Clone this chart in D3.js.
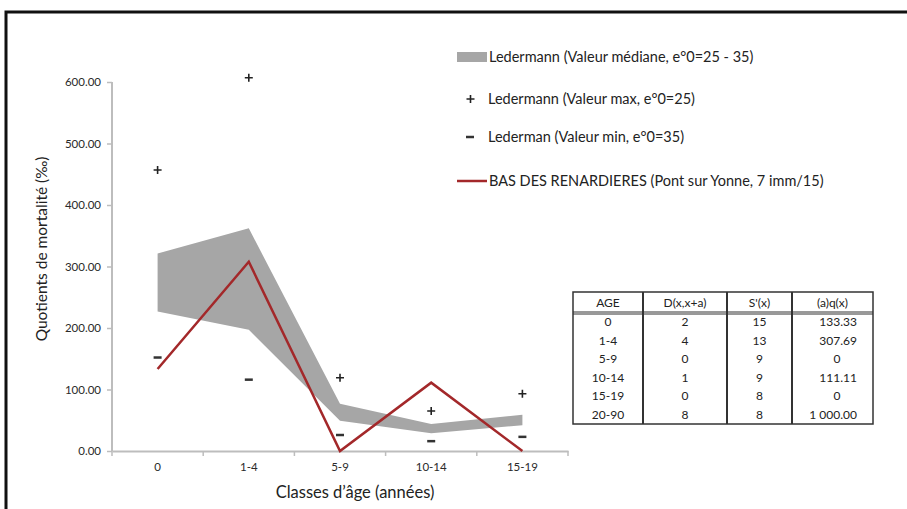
<!DOCTYPE html>
<html><head><meta charset="utf-8">
<script src="https://cdn.jsdelivr.net/npm/d3@7"></script>
<style>
html,body{margin:0;padding:0;background:#fff;}
svg{display:block;font-family:Lato, "Open Sans", sans-serif;}
</style></head>
<body>
<svg id="c" width="907" height="509"></svg>
<script>
// ---- data ----
const categories = ["0", "1-4", "5-9", "10-14", "15-19"];
const bandUpper = [321, 362, 77, 44, 59];      // Ledermann médiane (e°0=25)
const bandLower = [227, 197, 49, 29, 42];      // Ledermann médiane (e°0=35)
const maxValues = [457, 607, 119, 65, 93];     // Ledermann max
const minValues = [152, 116, 26, 16, 23];      // Lederman min
const siteValues = [133.33, 307.69, 0, 111.11, 0];
const yTicks = [0, 100, 200, 300, 400, 500, 600];
const legendLabels = [
  "Ledermann (Valeur médiane, e°0=25 - 35)",
  "Ledermann (Valeur max, e°0=25)",
  "Lederman (Valeur min, e°0=35)",
  "BAS DES RENARDIERES (Pont sur Yonne,  7 imm/15)"
];
const tableHeader = ["AGE", "D(x,x+a)", "S'(x)", "(a)q(x)"];
const tableAge = ["0", "1-4", "5-9", "10-14", "15-19", "20-90"];
const tableD = ["2", "4", "0", "1", "0", "8"];
const tableS = ["15", "13", "9", "9", "8", "8"];
const tableQ = ["133.33", "307.69", "0", "111.11", "0", "1 000.00"];

const svg = d3.select("#c");
const RED = "#a3282a", GREY = "#a6a6a6", AX = "#bdbdbd", TXT = "#2a2a2a";

// frame
svg.append("path").attr("d", "M6,509 V12 H907").attr("fill", "none")
  .attr("stroke", "#111").attr("stroke-width", 3);

const x = d3.scaleBand().domain(categories).range([112, 568]);
const y = d3.scaleLinear().domain([0, 600]).range([451, 82]);
const cx = c => x(c) + x.bandwidth() / 2;

// y axis
const yAxis = svg.append("g").attr("transform", "translate(112,0)")
  .call(d3.axisLeft(y).tickValues(yTicks).tickFormat(d3.format(".2f")).tickSize(5).tickPadding(6));
yAxis.select(".domain").attr("stroke", AX).attr("stroke-width", 2).attr("d", `M0,${y(0)}V${y(600)}`);
yAxis.selectAll(".tick line").attr("stroke", AX).attr("stroke-width", 1.5);
yAxis.selectAll(".tick text").attr("fill", TXT).style("font-size", "11.5px").style("font-family", "Lato");

// x axis
const xAxis = svg.append("g").attr("transform", `translate(0,${y(0)})`)
  .call(d3.axisBottom(x).tickSize(0).tickPadding(12));
xAxis.select(".domain").attr("stroke", AX).attr("stroke-width", 2);
xAxis.selectAll(".tick text").attr("fill", TXT).style("font-size", "11.5px").style("font-family", "Lato");
// boundary ticks
const bounds = categories.map(c => x(c) + x.bandwidth()).concat([x(categories[0])]);
xAxis.selectAll("line.bt").data(bounds).enter().append("line").attr("class", "bt")
  .attr("x1", d => d).attr("x2", d => d).attr("y1", 0).attr("y2", 5)
  .attr("stroke", AX).attr("stroke-width", 1.5);

// band area
const area = d3.area().x((d, i) => cx(categories[i])).y0(d => y(d[0])).y1(d => y(d[1]));
svg.append("path").datum(bandLower.map((v, i) => [v, bandUpper[i]]))
  .attr("d", area).attr("fill", GREY);

// red line
const line = d3.line().x((d, i) => cx(categories[i])).y(d => y(d));
svg.append("path").datum(siteValues).attr("d", line)
  .attr("fill", "none").attr("stroke", RED).attr("stroke-width", 2.5).attr("stroke-linejoin", "miter");

// plus markers
svg.selectAll("path.mx").data(maxValues).enter().append("path").attr("class", "mx")
  .attr("d", "M-4,0H4M0,-4V4")
  .attr("transform", (d, i) => `translate(${cx(categories[i])},${y(d)})`)
  .attr("stroke", "#222").attr("stroke-width", 1.6);
// minus markers
svg.selectAll("path.mn").data(minValues).enter().append("path").attr("class", "mn")
  .attr("d", "M-4,0H4")
  .attr("transform", (d, i) => `translate(${cx(categories[i])},${y(d)})`)
  .attr("stroke", "#333").attr("stroke-width", 2.5);

// axis titles
svg.append("text").attr("transform", "translate(47,249) rotate(-90)")
  .attr("text-anchor", "middle").style("font-size", "15.5px").attr("fill", "#222")
  .text("Quotients de mortalité (‰)");
svg.append("text").attr("x", 355).attr("y", 498).attr("text-anchor", "middle")
  .style("font-size", "16.5px").attr("fill", "#222").text("Classes d’âge (années)");

// legend
const lg = svg.append("g");
const ly = [57, 99, 137, 181];
lg.append("rect").attr("x", 457).attr("y", ly[0] - 5).attr("width", 30).attr("height", 10).attr("fill", GREY);
lg.append("path").attr("d", `M466.5,${ly[1]}h8M470.5,${ly[1] - 4}v8`).attr("stroke", "#222").attr("stroke-width", 1.6);
lg.append("path").attr("d", `M466,${ly[2]}h8`).attr("stroke", "#333").attr("stroke-width", 2.5);
lg.append("path").attr("d", `M457,${ly[3]}h30`).attr("stroke", RED).attr("stroke-width", 2.5);
lg.selectAll("text").data(legendLabels).enter().append("text")
  .attr("x", (d, i) => (i === 0 || i === 3) ? 489 : 488)
  .attr("y", (d, i) => ly[i]).attr("dy", "0.35em")
  .style("font-size", "14.5px").attr("fill", "#222").text(d => d);

// table
const tg = svg.append("g");
const colX = [573, 643, 727, 792, 873];
const tTop = 292, headB = 313, rowH = 18.5;
const tBottom = headB + rowH * tableAge.length;
tg.append("rect").attr("x", colX[0]).attr("y", tTop).attr("width", colX[4] - colX[0]).attr("height", tBottom - tTop)
  .attr("fill", "#fff").attr("stroke", "#333").attr("stroke-width", 1.5);
tg.selectAll("line.cv").data(colX.slice(1, 4)).enter().append("line").attr("class", "cv")
  .attr("x1", d => d).attr("x2", d => d).attr("y1", tTop).attr("y2", tBottom)
  .attr("stroke", "#333").attr("stroke-width", 2);
tg.append("line").attr("x1", colX[0]).attr("x2", colX[4]).attr("y1", headB - 1).attr("y2", headB - 1)
  .attr("stroke", "#333").attr("stroke-width", 1);
tg.append("line").attr("x1", colX[0]).attr("x2", colX[4]).attr("y1", headB + 1).attr("y2", headB + 1)
  .attr("stroke", "#333").attr("stroke-width", 1);
const colC = [0, 1, 2, 3].map(i => (colX[i] + colX[i + 1]) / 2);
tg.selectAll("text.h").data(tableHeader).enter().append("text").attr("class", "h")
  .attr("x", (d, i) => colC[i]).attr("y", (tTop + headB) / 2).attr("dy", "0.35em")
  .attr("text-anchor", "middle").style("font-size", "12px").attr("fill", "#222").text(d => d);
const cols = [tableAge, tableD, tableS, tableQ];
cols.forEach((col, ci) => {
  tg.selectAll(`text.c${ci}`).data(col).enter().append("text").attr("class", `c${ci}`)
    .attr("x", d => (ci === 3 && d !== "0") ? 857 : (ci === 3 ? 837 : colC[ci]))
    .attr("y", (d, i) => headB + rowH * i + rowH / 2).attr("dy", "0.35em")
    .attr("text-anchor", d => (ci === 3 && d !== "0") ? "end" : "middle")
    .style("font-size", "12px").attr("fill", "#222").text(d => d);
});
</script>
</body></html>
